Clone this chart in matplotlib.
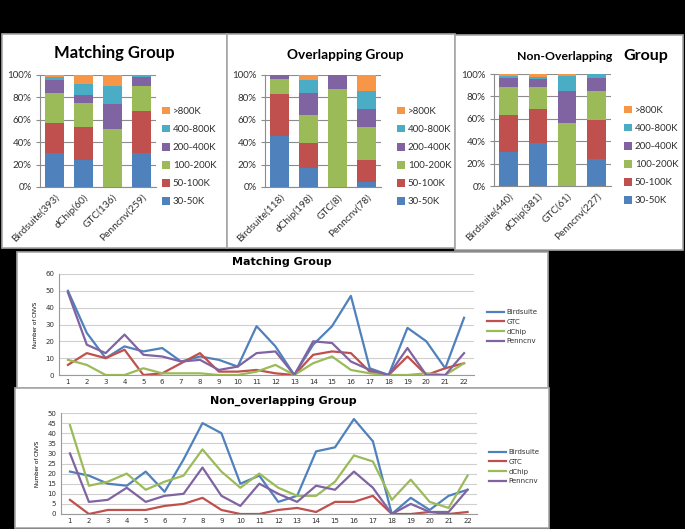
import numpy as np
import matplotlib
matplotlib.use("Agg")
import matplotlib.pyplot as plt
from matplotlib.patches import Rectangle

W, H = 685, 529

# size classes, bottom to top of each stacked bar
sizes = ['30-50K', '50-100K', '100-200K', '200-400K', '400-800K', '>800K']
size_colors = ['#4F81BD', '#C0504D', '#9BBB59', '#8064A2', '#4BACC6', '#F79646']

# percentage of CNVs in each size class (rows = programs, cols = sizes)
match_labels = ['Birdsuite(393)', 'dChip(60)', 'GTC(136)', 'Penncnv(259)']
match_pct = [[30, 27.5, 26.5, 11.5, 3, 1.5],
             [24, 29.5, 21.5, 7, 10, 8],
             [0, 0, 51.5, 23, 15.5, 10],
             [30, 37.5, 22.5, 8, 2, 0]]

overlap_labels = ['Birdsuite(118)', 'dChip(198)', 'GTC(8)', 'Penncnv(78)']
overlap_pct = [[45.5, 37.5, 13.5, 3.5, 0, 0],
               [17, 22.5, 24.5, 20, 11.5, 4.5],
               [0, 0, 87.5, 12.5, 0, 0],
               [4.5, 20, 29.5, 15.5, 16, 14.5]]

nonover_labels = ['Birdsuite(440)', 'dChip(381)', 'GTC(61)', 'Penncnv(227)']
nonover_pct = [[30.5, 32.5, 25.5, 8, 2, 1.5],
               [38, 30.5, 19.5, 7.5, 2, 2.5],
               [0, 0, 56, 29, 13.5, 1.5],
               [24, 35, 26, 11.5, 3.5, 0]]

# number of CNVs per chromosome
chroms = list(range(1, 23))
programs = ['Birdsuite', 'GTC', 'dChip', 'Penncnv']
prog_colors = ['#4F81BD', '#C0504D', '#9BBB59', '#8064A2']

match_cnv = {
    'Birdsuite': [50, 25, 10, 17, 14, 16, 8, 11, 9, 5, 29, 17, 0, 18, 29, 47, 4, 0, 28, 20, 4, 34],
    'GTC':       [6, 13, 10, 15, 0, 1, 7, 13, 2, 2, 3, 1, 0, 12, 14, 13, 2, 0, 11, 0, 4, 7],
    'dChip':     [9, 6, 0, 0, 4, 1, 1, 1, 0, 0, 2, 6, 0, 7, 11, 3, 1, 0, 0, 1, 0, 7],
    'Penncnv':   [49, 18, 13, 24, 12, 11, 8, 9, 3, 5, 13, 14, 0, 20, 19, 8, 3, 0, 16, 0, 0, 13],
}
nonover_cnv = {
    'Birdsuite': [21, 19, 15, 14, 21, 11, 27, 45, 40, 15, 19, 6, 9, 31, 33, 47, 36, 0, 8, 2, 9, 12],
    'GTC':       [7, 0, 2, 2, 2, 4, 5, 8, 2, 0, 0, 2, 3, 1, 6, 6, 9, 0, 0, 1, 0, 1],
    'dChip':     [44, 14, 16, 20, 12, 16, 19, 32, 21, 13, 20, 13, 9, 9, 16, 29, 26, 7, 17, 6, 3, 19],
    'Penncnv':   [30, 6, 7, 13, 6, 9, 10, 23, 9, 4, 15, 10, 6, 14, 12, 21, 13, 0, 5, 1, 1, 12],
}

fig = plt.figure(figsize=(W / 100, H / 100), dpi=100, facecolor='black')


def px_axes(x0, y0, x1, y1):
    return fig.add_axes([x0 / W, 1 - y1 / H, (x1 - x0) / W, (y1 - y0) / H])


def panel(x0, y0, x1, y1):
    fig.add_artist(Rectangle((x0 / W, 1 - y1 / H), (x1 - x0) / W, (y1 - y0) / H,
                             transform=fig.transFigure, facecolor='white',
                             edgecolor='#a6a6a6', lw=1.2, zorder=-1))


def ftext(x, y, s, **kw):
    fig.text(x / W, 1 - y / H, s, **kw)


# white boxes behind each chart
panel(2, 34, 227, 248)
panel(227, 34, 455, 248)
panel(455, 35, 683, 250)
panel(17, 252, 548, 388)
panel(15, 388, 549, 528)

bar_font = 'Lato'


def stacked(ax, labels, pct, leg_xy):
    pct = np.array(pct, dtype=float)
    x = np.arange(len(labels))
    bottom = np.zeros(len(labels))
    handles = []
    for j, name in enumerate(sizes):
        b = ax.bar(x, pct[:, j], 0.64, bottom=bottom, color=size_colors[j],
                   label=name, zorder=3)
        bottom += pct[:, j]
        handles.append(b)
    ax.set_xlim(-0.5, len(labels) - 0.5)
    ax.set_ylim(0, 100)
    ax.set_yticks(range(0, 101, 20))
    ax.set_yticklabels([f'{v}%' for v in range(0, 101, 20)], fontsize=7,
                       family=bar_font, color='#303030')
    ax.set_xticks(x)
    ax.set_xticklabels(labels, rotation=45, ha='right', rotation_mode='anchor',
                       fontsize=7.3, family=bar_font, color='#303030')
    ax.tick_params(axis='x', length=0, pad=4)
    ax.tick_params(axis='y', length=3, color='#8c8c8c', pad=3)
    ax.grid(axis='y', color='#8c8c8c', lw=0.8, zorder=0)
    for s in ['top', 'right']:
        ax.spines[s].set_visible(False)
    for s in ['left', 'bottom']:
        ax.spines[s].set_color('#8c8c8c')
    ax.set_facecolor('none')
    leg = ax.legend(handles[::-1], sizes[::-1], loc='upper left',
                    bbox_to_anchor=(leg_xy[0] / W, 1 - leg_xy[1] / H),
                    bbox_transform=fig.transFigure, frameon=False,
                    prop={'family': bar_font, 'size': 7}, handlelength=0.8,
                    handleheight=0.8, handletextpad=0.3, labelspacing=0.92,
                    borderpad=0, borderaxespad=0)
    for t in leg.get_texts():
        t.set_color('#303030')


ax1 = px_axes(40, 75, 156, 187)
stacked(ax1, match_labels, match_pct, (162, 107))
ftext(114, 53, 'Matching Group', ha='center', va='center', fontsize=12,
      weight='bold', family=bar_font)

ax2 = px_axes(265, 75, 381, 187)
stacked(ax2, overlap_labels, overlap_pct, (397, 107))
ftext(345, 55, 'Overlapping Group', ha='center', va='center', fontsize=9.8,
      weight='bold', family=bar_font)

ax3 = px_axes(494, 74, 611, 186)
stacked(ax3, nonover_labels, nonover_pct, (624, 106))
ftext(565, 56, 'Non-Overlapping', ha='center', va='center', fontsize=8.8,
      weight='bold', family=bar_font)
ftext(646, 56, 'Group', ha='center', va='center', fontsize=11.5,
      weight='bold', family=bar_font)


def lines(ax, data, ymax, ystep, leg_xy):
    for name, c in zip(programs, prog_colors):
        ax.plot(chroms, data[name], color=c, lw=1.6, label=name, zorder=3)
    ax.set_xlim(0.5, 22.5)
    ax.set_ylim(0, ymax)
    ax.set_xticks(chroms)
    ax.set_yticks(range(0, ymax + 1, ystep))
    ax.tick_params(labelsize=5, length=0, pad=3, labelcolor='#303030')
    ax.grid(axis='y', color='#cfcfcf', lw=0.8, zorder=0)
    for s in ['top', 'right']:
        ax.spines[s].set_visible(False)
    for s in ['left', 'bottom']:
        ax.spines[s].set_color('#9a9a9a')
    ax.set_facecolor('none')
    ax.set_ylabel('Number of CNVS', fontsize=4, labelpad=5)
    leg = ax.legend(loc='upper left', bbox_to_anchor=(leg_xy[0] / W, 1 - leg_xy[1] / H),
                    bbox_transform=fig.transFigure, frameon=False, fontsize=5,
                    handlelength=2.4, handletextpad=0.4, labelspacing=0.55,
                    borderpad=0, borderaxespad=0)
    for t in leg.get_texts():
        t.set_color('#303030')


ax4 = px_axes(58.5, 274, 473.5, 375)
lines(ax4, match_cnv, 60, 10, (487, 309))
ftext(282, 262, 'Matching Group', ha='center', va='center', fontsize=8,
      weight='bold')

ax5 = px_axes(60.5, 413, 477, 514)
lines(ax5, nonover_cnv, 50, 5, (489, 449))
ftext(283, 401, 'Non_overlapping Group', ha='center', va='center', fontsize=8,
      weight='bold')

fig.savefig('out.png', dpi=100, facecolor='black')
